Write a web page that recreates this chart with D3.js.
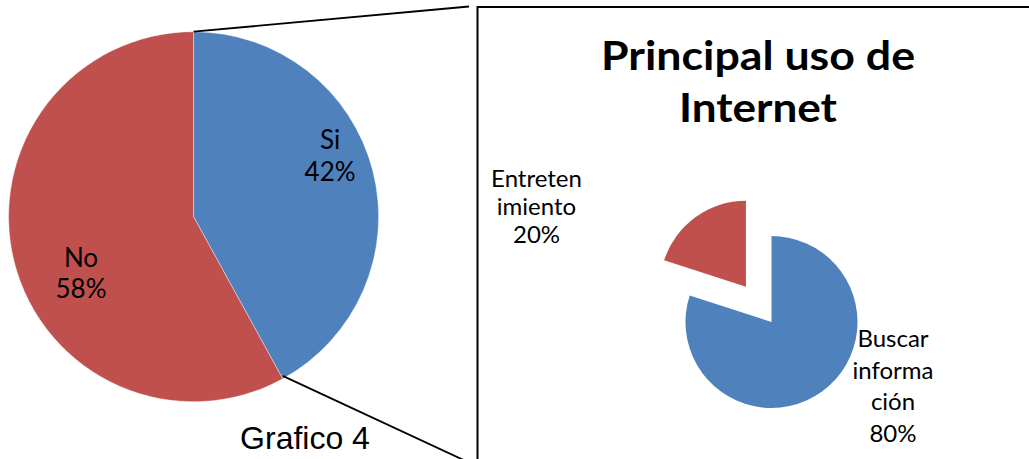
<!DOCTYPE html>
<html>
<head>
<meta charset="utf-8">
<script src="https://cdn.jsdelivr.net/npm/d3@7"></script>
<style>
  html, body { margin: 0; padding: 0; background: #fff; overflow: hidden; }
  svg { display: block; }
</style>
</head>
<body>
<script>
// data
var mainCategories = ["Si", "No"]
var mainValues = [42, 58]
var useCategories = ["Buscar información", "Entretenimiento"]
var useValues = [80, 20]
var useLabelLines = [["Buscar", "informa", "ción"], ["Entreten", "imiento"]]
var chartTitle = ["Principal uso de", "Internet"]
var caption = "Grafico 4"

var W = 1029, H = 459
var colors = ["#4F81BD", "#C0504D"]
var pct = d3.format(".0%")

var svg = d3.select("body").append("svg").attr("width", W).attr("height", H)

var pie = d3.pie().sort(null).value(function(d){ return d.v })

// left pie
var cx1 = 193.6, cy1 = 216.7, r1 = 185
var mainData = pie(mainValues.map(function(v, i){ return {name: mainCategories[i], v: v} }))
var arc1 = d3.arc().innerRadius(0).outerRadius(r1)
var g1 = svg.append("g").attr("transform", "translate(" + cx1 + "," + cy1 + ")")
g1.selectAll("path").data(mainData).enter().append("path")
    .attr("d", arc1)
    .attr("fill", function(d, i){ return colors[i] })
    .attr("stroke", "#fff").attr("stroke-width", 0.4)

var total1 = d3.sum(mainValues)
// label anchor points (layout), relative to pie centre
var mainLabelPos = [[136.5, -67.7], [-112.6, 50]]
var mainLabels = g1.selectAll("text.lbl").data(mainData).enter().append("text")
    .attr("class", "lbl")
    .attr("text-anchor", "middle")
    .style("font-family", "Lato, 'Open Sans', sans-serif")
    .style("font-size", "26px")
    .attr("fill", "#000")
mainLabels.append("tspan")
    .attr("x", function(d, i){ return mainLabelPos[i][0] })
    .attr("y", function(d, i){ return mainLabelPos[i][1] })
    .text(function(d){ return d.data.name })
mainLabels.append("tspan")
    .attr("x", function(d, i){ return mainLabelPos[i][0] })
    .attr("y", function(d, i){ return mainLabelPos[i][1] + 31.6 })
    .text(function(d){ return pct(d.data.v / total1) })

// box on the right
var boxX = 477.5, boxY = 7
svg.append("rect")
    .attr("x", boxX).attr("y", boxY)
    .attr("width", 600).attr("height", 500)
    .attr("fill", "none").attr("stroke", "#000").attr("stroke-width", 2)

// connector lines from the "Si" slice edges
function edgePoint(a){ return [cx1 + r1 * Math.sin(a), cy1 - r1 * Math.cos(a)] }
var siSlice = mainData[0]
var pTop = edgePoint(siSlice.startAngle), pBot = edgePoint(siSlice.endAngle)
svg.append("line")
    .attr("x1", pTop[0]).attr("y1", pTop[1]).attr("x2", 469).attr("y2", 6.5)
    .attr("stroke", "#000").attr("stroke-width", 1.8)
svg.append("line")
    .attr("x1", pBot[0]).attr("y1", pBot[1] - 3).attr("x2", 470).attr("y2", 463)
    .attr("stroke", "#000").attr("stroke-width", 1.8)

// caption
svg.append("text")
    .attr("x", 305).attr("y", 449)
    .attr("text-anchor", "middle")
    .style("font-family", "'Liberation Sans', Arial, sans-serif")
    .style("font-size", "32px")
    .text(caption)

// title (stretched a bit to match the wider original face)
var titleWidths = [314, 158]
var title = svg.append("text")
    .attr("text-anchor", "middle")
    .style("font-family", "Lato, 'Open Sans', sans-serif")
    .style("font-weight", "bold")
    .style("font-size", "41px")
chartTitle.forEach(function(t, i){
    title.append("tspan").attr("x", 758).attr("y", 70 + i * 52.3)
        .attr("textLength", titleWidths[i]).attr("lengthAdjust", "spacingAndGlyphs")
        .text(t)
})

// right pie (exploded)
var cx2 = 771.5, cy2 = 322, r2 = 86, explode = 43.5
var useData = pie(useValues.map(function(v, i){ return {name: useCategories[i], v: v} }))
var arc2 = d3.arc().innerRadius(0).outerRadius(r2)
var g2 = svg.append("g").attr("transform", "translate(" + cx2 + "," + cy2 + ")")
g2.selectAll("path").data(useData).enter().append("path")
    .attr("d", arc2)
    .attr("fill", function(d, i){ return colors[i] })
    .attr("transform", function(d, i){
        if (i === 0) return null
        var m = (d.startAngle + d.endAngle) / 2
        return "translate(" + (explode * Math.sin(m)) + "," + (-explode * Math.cos(m)) + ")"
    })

var total2 = d3.sum(useValues)
var useLabelPos = [[121.5, 25.3], [-235, -135.3]]
var useLineH = [31.4, 28.3]
var useLabels = g2.selectAll("text.lbl").data(useData).enter().append("text")
    .attr("class", "lbl")
    .attr("text-anchor", "middle")
    .style("font-family", "Lato, 'Open Sans', sans-serif")
    .style("font-size", "24px")
    .attr("fill", "#000")
useLabels.each(function(d, i){
    var lines = useLabelLines[i].concat([pct(d.data.v / total2)])
    var t = d3.select(this)
    lines.forEach(function(s, k){
        t.append("tspan")
            .attr("x", useLabelPos[i][0])
            .attr("y", useLabelPos[i][1] + k * useLineH[i])
            .text(s)
    })
})
</script>
</body>
</html>
